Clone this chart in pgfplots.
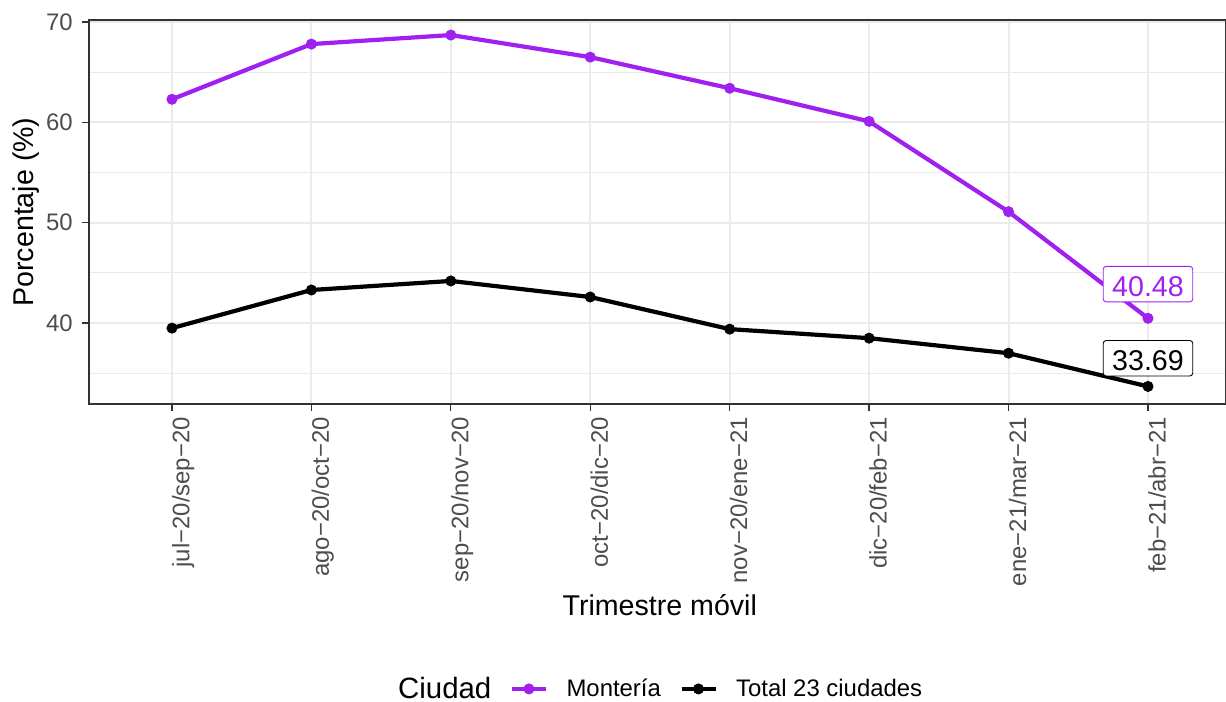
\documentclass[border=0pt]{standalone}
\usepackage{pgfplots}
\pgfplotsset{compat=1.18}
\usepackage{fontspec}
\setmainfont{Liberation Sans}

\definecolor{monteria}{HTML}{A020F0}
\definecolor{gridgray}{HTML}{EBEBEB}
\definecolor{framegray}{HTML}{333333}
\definecolor{tickgray}{HTML}{4D4D4D}

\begin{document}
\begin{tikzpicture}
\useasboundingbox (-89bp,-298bp) rectangle (1137bp,404bp);
\begin{axis}[
    scale only axis,
    width=1137bp, height=384bp,
    xmin=-0.595, xmax=7.56,
    ymin=31.94, ymax=70.2,
    xtick={0,1,2,3,4,5,6,7},
    xticklabels={jul−20/sep−20, ago−20/oct−20, sep−20/nov−20, oct−20/dic−20,
                 nov−20/ene−21, dic−20/feb−21, ene−21/mar−21, feb−21/abr−21},
    ytick={40,50,60,70},
    minor ytick={35,45,55,65},
    grid=both,
    major grid style={gridgray, line width=2bp},
    minor grid style={gridgray, line width=1bp},
    axis line style={framegray, line width=1.3bp},
    tick style={framegray, line width=1.3bp},
    tick align=outside,
    major tick length=7bp, minor tick length=0pt,
    xtick pos=bottom, ytick pos=left,
    ticklabel style={font=\fontsize{24}{24}\selectfont, text=tickgray, inner sep=0pt},
    xticklabel style={rotate=90, anchor=north east},
    xticklabel shift=6bp,
    yticklabel shift=9bp,
    /pgf/number format/assume math mode=true,
    xlabel={Trimestre móvil},
    ylabel={Porcentaje (\%)},
    label style={font=\fontsize{28.7}{28.7}\selectfont},
    xlabel style={at={(axis description cs:0.502,-0.523)}, anchor=center},
    ylabel style={at={(axis description cs:-0.055,0.5)}, anchor=center},
    legend columns=-1,
    legend style={at={(axis description cs:0.2555,-0.742)}, anchor=west,
        draw=none, fill=none, inner sep=0pt,
        font=\fontsize{24}{24}\selectfont,
        nodes={inner sep=0pt},
        /tikz/column sep=18.5bp},
    legend image code/.code={%
        \draw[mark repeat=2, mark phase=2, #1]
            plot coordinates {(0bp,0bp) (17bp,0bp) (34bp,0bp)};},
]
\addlegendimage{empty legend}
\addlegendentry{\fontsize{29.5}{29.5}\selectfont Ciudad}

% Montería
\addplot[color=monteria, line width=4.2bp, mark=*, mark size=5bp,
         mark options={solid, line width=1bp}] coordinates {
    (0,62.3) (1,67.8) (2,68.7) (3,66.5) (4,63.4) (5,60.1) (6,51.1) (7,40.48)
};
\addlegendentry{Montería}

% Total 23 ciudades
\addplot[color=black, line width=4.2bp, mark=*, mark size=5bp,
         mark options={solid, line width=1bp}] coordinates {
    (0,39.5) (1,43.3) (2,44.2) (3,42.6) (4,39.4) (5,38.5) (6,37.0) (7,33.69)
};
\addlegendentry{Total 23 ciudades}

\node[draw=monteria, text=monteria, fill=white, rounded corners=3bp,
      line width=0.9bp, inner xsep=9bp, inner ysep=5.5bp,
      text height=24.5bp, text depth=0pt,
      font=\fontsize{28.7}{28.7}\selectfont, anchor=south, yshift=16bp]
      at (axis cs:7,40.48) {40.48};
\node[draw=black, text=black, fill=white, rounded corners=3bp,
      line width=0.9bp, inner xsep=9bp, inner ysep=5.5bp,
      text height=24.5bp, text depth=0pt,
      font=\fontsize{28.7}{28.7}\selectfont, anchor=south, yshift=10bp]
      at (axis cs:7,33.69) {33.69};
\end{axis}
\end{tikzpicture}
\end{document}
